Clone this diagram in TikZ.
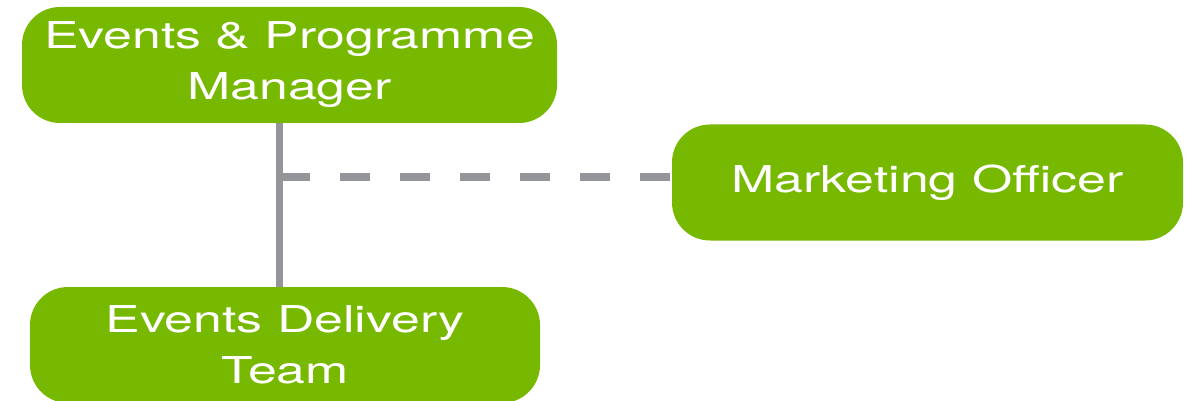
\documentclass[tikz,border=0pt]{standalone}
\usepackage{fontspec}
\setmainfont{TeX Gyre Heros}[FakeStretch=1.4]
\usepackage{xcolor}
\definecolor{rolegreen}{RGB}{119,185,0}
\definecolor{linkgrey}{RGB}{147,149,152}
\tikzset{
  rolebox/.style={rectangle, fill=rolegreen, rounded corners=38pt, minimum width=#1, minimum height=116pt, inner sep=0pt, text=white, align=center, font=\fontsize{37}{51}\selectfont},
  reportline/.style={draw=linkgrey, line width=7pt},
  dottedline/.style={draw=linkgrey, line width=8pt, dash pattern=on 30pt off 30pt}
}

\begin{document}
\begin{tikzpicture}[x=1pt, y=-1pt]
\useasboundingbox (0,0) rectangle (1195,401);
\node[rolebox=535pt] (manager) at (289.5,65) {Events \& Programme\\Manager};
\node[rolebox=511pt] (marketing) at (927.5,182.5) {Marketing Officer};
\node[rolebox=510pt] (delivery) at (285,345) {Events Delivery\\Team};
\coordinate (junction) at (279.5,177);
% solid line down, dashed line across
\draw[reportline] (junction |- manager.south) -- (junction |- delivery.north);
\draw[dottedline] (junction) -- (marketing.west |- junction);
\end{tikzpicture}
\end{document}
